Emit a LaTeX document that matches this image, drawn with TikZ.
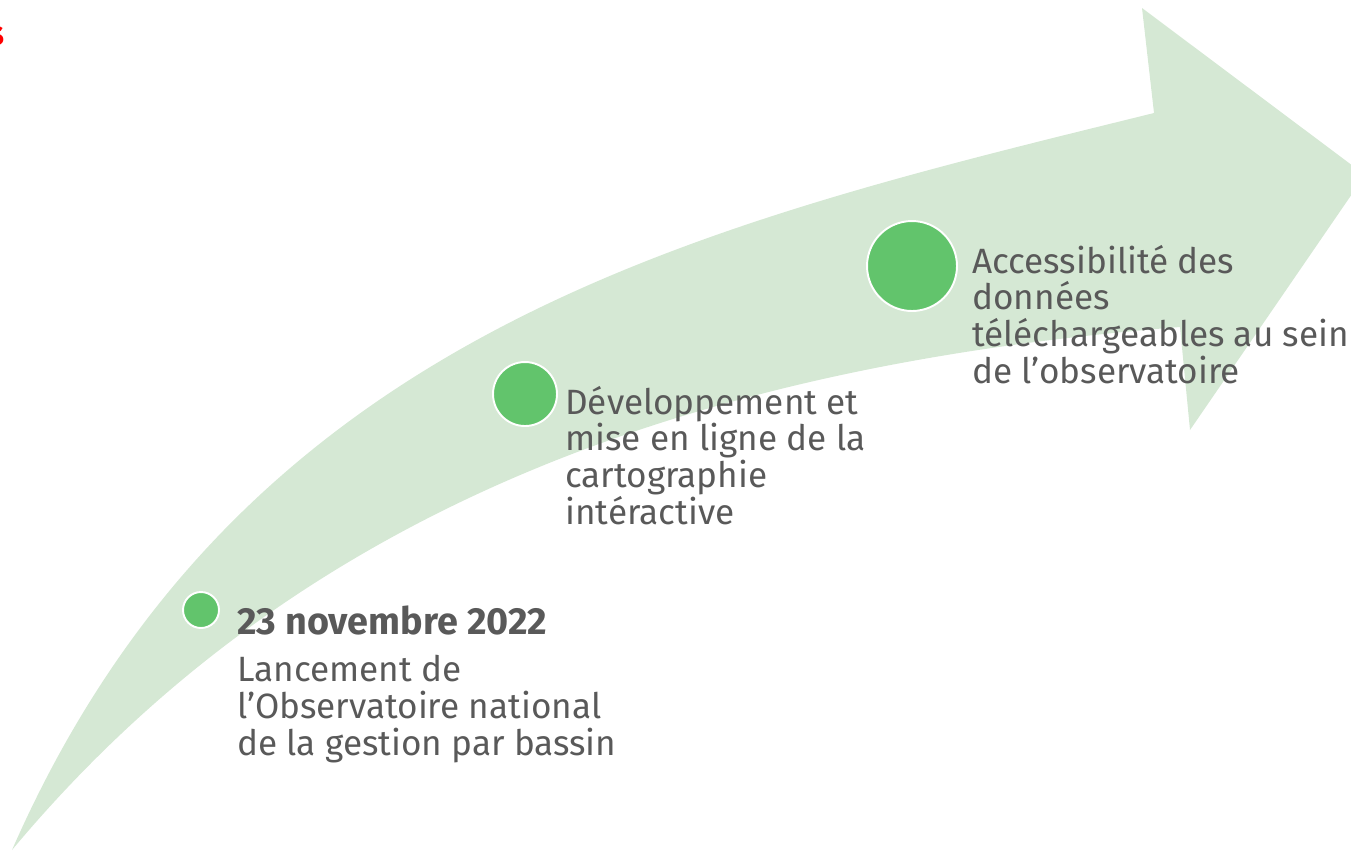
\documentclass[tikz,border=0pt]{standalone}
\usepackage{fontspec}
\setmainfont{Fira Sans}
\usetikzlibrary{positioning}
\definecolor{bandgreen}{HTML}{D5E8D4}
\definecolor{dotgreen}{HTML}{62C46C}
\definecolor{txtgray}{HTML}{595959}

\begin{document}
\begin{tikzpicture}[x=0.02cm,y=-0.02cm,
    dot/.style={circle,draw=white,line width=1.1pt,fill=dotgreen,inner sep=0pt},
    lbl/.style={anchor=base west,align=left,inner sep=0pt,text=txtgray,font=\fontsize{20}{20.8}\selectfont}]
    \useasboundingbox (0,0) rectangle (1351,850);
    % curved band with its head
    \fill[bandgreen] (12,850) .. controls (240,330) and (700,225) .. (1154,113) -- (1142,8) -- (1365,175)
      -- (1190,430) -- (1180,327) .. controls (700,365) and (300,505) .. (12,850) -- cycle;
    \node[anchor=base east,inner sep=0pt,text=red,font=\bfseries\fontsize{20}{24}\selectfont] (ttl) at (5,45) {s};
    \node[dot,minimum size=0.72cm] (c1) at (201,610) {};
    \node[dot,minimum size=1.28cm] (c2) at (525,394) {};
    \node[dot,minimum size=1.8cm] (c3) at (912,266) {};
    % base anchor = last line
    \node[lbl,font=\bfseries\fontsize{21.5}{22}\selectfont] (d1) at (237,634) {23 novembre 2022};
    \node[lbl] (t1) at (237,755) {Lancement de\\l’Observatoire national\\de la gestion par bassin};
    \node[lbl] (t2) at (565,524) {Développement et\\mise en ligne de la\\cartographie\\intéractive};
    \node[lbl] (t3) at (972,383) {Accessibilité des\\données\\téléchargeables au sein\\de l’observatoire};
  \end{tikzpicture}
\end{document}
